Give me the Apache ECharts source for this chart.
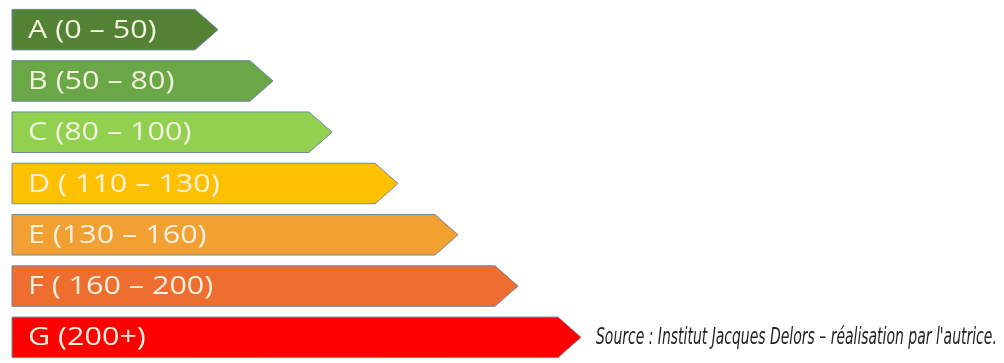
<!DOCTYPE html>
<html>
<head>
<meta charset="utf-8">
<script src="https://cdn.jsdelivr.net/npm/echarts@6/dist/echarts.min.js"></script>
<style>
  html, body { margin: 0; padding: 0; background: #fff; }
  #chart { width: 1004px; height: 363px; }
</style>
</head>
<body>
<div id="chart"></div>
<script>
const classes = ["A (0 – 50)", "B (50 – 80)", "C (80 – 100)", "D ( 110 – 130)", "E (130 – 160)", "F ( 160 – 200)", "G (200+)"];
// arrow length (tip position on the x scale)
const lengths = [206, 261, 320, 386, 446, 506, 569];
const colors = ["#548235", "#6aa746", "#92d050", "#ffc000", "#f2a032", "#ee6e30", "#ff0000"];
const sourceText = "Source : Institut Jacques Delors – réalisation par l'autrice.";

const chart = echarts.init(document.getElementById("chart"));

function renderArrow(params, api) {
  const idx = api.value(0);
  const tip = api.coord([api.value(1), idx]);
  const start = api.coord([0, idx]);
  const h = api.size([0, 1])[1] * 0.79;
  const head = 23;
  const y = tip[1];
  return {
    type: "group",
    children: [
      {
        type: "polygon",
        shape: {
          points: [
            [start[0], y - h / 2],
            [tip[0] - head, y - h / 2],
            [tip[0], y],
            [tip[0] - head, y + h / 2],
            [start[0], y + h / 2]
          ]
        },
        style: { fill: colors[idx], stroke: "#6f87a3", lineWidth: 1 }
      },
      {
        type: "text",
        x: start[0] + 16,
        y: y + 1,
        scaleX: 1.22,
        style: {
          text: classes[idx],
          fill: "#f4f1df",
          font: "25px 'Open Sans'",
          verticalAlign: "middle"
        }
      }
    ]
  };
}

chart.setOption({
  animation: false,
  grid: { left: 12, right: 0, top: 4, height: 365 },
  xAxis: { type: "value", min: 0, max: 992, show: false },
  yAxis: { type: "category", data: classes, inverse: true, show: false },
  series: [{
    type: "custom",
    renderItem: renderArrow,
    encode: { x: 1, y: 0 },
    data: lengths.map((v, i) => [i, v])
  }],
  graphic: [{
    type: "text",
    left: 596,
    top: 327,
    scaleX: 0.607,
    style: {
      text: sourceText,
      fill: "#222",
      font: "italic 23px 'DejaVu Sans'"
    }
  }]
});
</script>
</body>
</html>
